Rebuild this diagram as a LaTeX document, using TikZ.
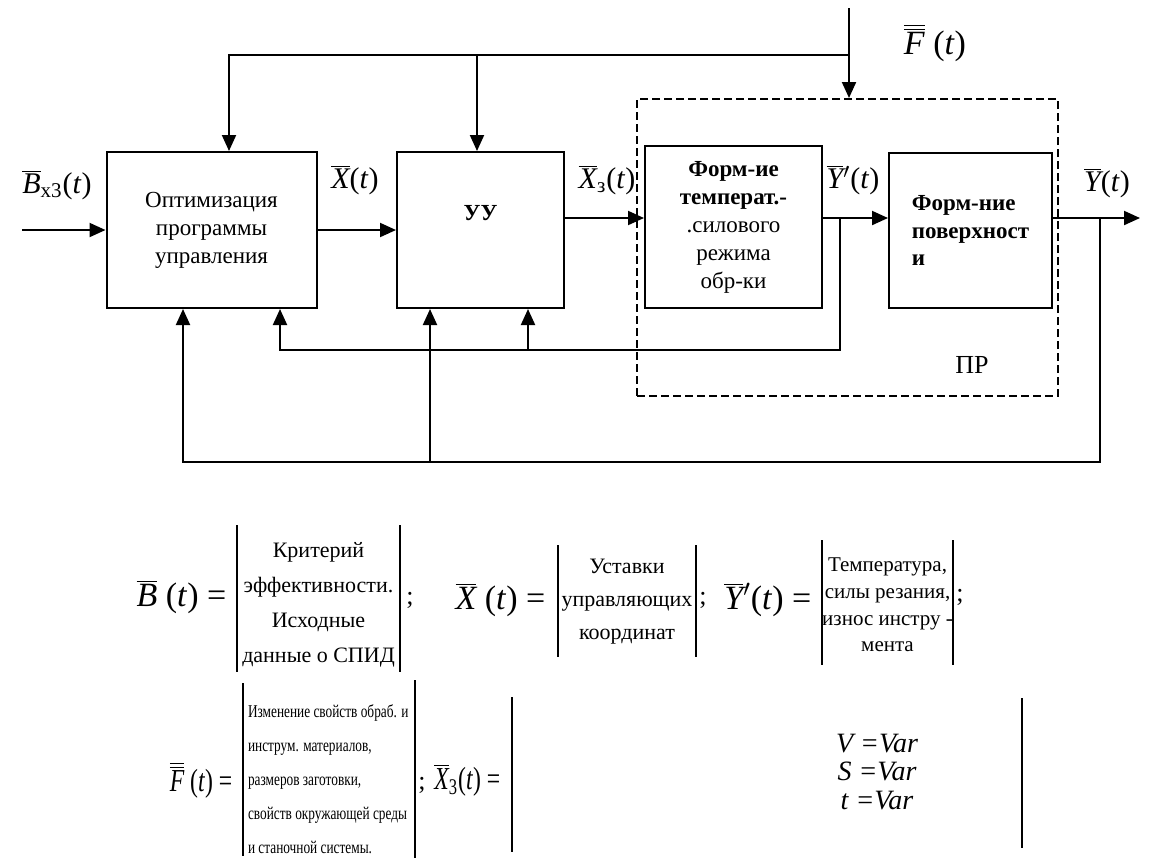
\documentclass[tikz,border=0pt]{standalone}
\usepackage{fontspec}
\setmainfont{Liberation Serif}
\newfontfamily\narrowfont[FakeStretch=0.74]{Liberation Serif}
\usetikzlibrary{arrows.meta}
\newcommand{\vb}[1]{$\overline{\mbox{\itshape #1}}$}
\newcommand{\vbb}[1]{$\overline{\overline{\mbox{\itshape #1}}}$}
\begin{document}
\begin{tikzpicture}[x=0.5pt,y=-0.5pt,line width=1pt,
  blk/.style={draw,rectangle,align=center,inner sep=2pt,font=\fontsize{11.5}{14}\selectfont},
  sig/.style={-{Triangle[length=8pt,width=7pt]}},
  lbl/.style={font=\fontsize{15}{18}\selectfont},
  eq/.style={anchor=east,font=\fontsize{17}{20}\selectfont},
  eqn/.style={anchor=east,font=\narrowfont\fontsize{16}{20}\selectfont},
  note/.style={align=center,inner sep=1pt,font=\fontsize{11}{17.5}\selectfont},
  semi/.style={font=\fontsize{13}{15}\selectfont}]
\useasboundingbox (0,0) rectangle (1159,859);

\node[blk,minimum width=105pt,minimum height=78pt] (opt) at (211.5,230) {Оптимизация\\программы\\управления};
\node[blk,minimum width=83.5pt,minimum height=78pt,font=\fontsize{11.5}{14}\selectfont\bfseries] (uu) at (480.5,230) {\raisebox{5pt}[0pt][0pt]{УУ}};
\node[blk,minimum width=88.5pt,minimum height=81pt] (form) at (733.5,227) {\textbf{Форм-ие}\\\textbf{температ.-}\\.силового\\режима\\обр-ки};
\node[blk,minimum width=81.5pt,minimum height=77.5pt,align=left,font=\fontsize{11.5}{13.75}\selectfont\bfseries] (surf) at (970.5,230.5) {Форм-ние\\поверхност\\и};
\node[draw,dash pattern=on 4pt off 2pt,inner sep=0pt,minimum width=210.5pt,minimum height=148.5pt] (pr) at (847.5,247.5) {};
\node[font=\fontsize{13}{15}\selectfont] (prlbl) at (972,365) {ПР};

\coordinate (bin) at (22,230);
\coordinate (ftop) at (849,8);
\coordinate (fj) at (849,55);
\coordinate (fa) at (229,55);
\coordinate (fb) at (477,55);
\coordinate (s) at (0,218);
\coordinate (yout) at (1140,218);
\coordinate (yp) at (840,218);
\coordinate (yq) at (1100,218);
\coordinate (ia) at (280,350);
\coordinate (ib) at (528,350);
\coordinate (oa) at (183,462);
\coordinate (ob) at (430,462);

\draw[sig] (bin) -- (opt);
\draw[sig] (opt) -- (uu);
\draw[sig] (uu.east |- s) -- (form.west |- s);
\draw[sig] (form.east |- s) -- (surf.west |- s);
\draw[sig] (surf.east |- s) -- (yout);
\draw[sig] (ftop) -- (ftop |- pr.north);
\draw[sig] (fj) -- (fa) -- (fa |- opt.north);
\draw[sig] (fb) -- (fb |- uu.north);
\draw[sig] (yp) |- (ia) -- (ia |- opt.south);
\draw[sig] (ib) -- (ib |- uu.south);
\draw[sig] (yq) |- (oa) -- (oa |- opt.south);
\draw[sig] (ob) -- (ob |- uu.south);

\node[lbl] (lb) at (57,185) {\vb{B}\textsubscript{x3}(\textit{t})};
\node[lbl] (lx) at (355,180) {\vb{X}(\textit{t})};
\node[lbl] (lx3) at (607,180) {\vb{X}\textsubscript{з}(\textit{t})};
\node[lbl] (lyp) at (853,180) {\vb{Y}$'$(\textit{t})};
\node[lbl] (ly) at (1107,183) {\vb{Y}(\textit{t})};
\node[lbl,font=\fontsize{17}{20}\selectfont] (lf) at (935,43) {\vbb{F} (\textit{t})};

\node[eq] (eb) at (234,597) {\vb{B} (\textit{t}) =};
\draw (237,525) -- (237,672);
\draw (400,525) -- (400,672);
\node[note] (tb) at (318.5,605) {Критерий\\эффективности.\\Исходные\\данные о СПИД};
\node[semi] (sb) at (410,600) {;};

\node[eq] (ex) at (553,600) {\vb{X} (\textit{t}) =};
\draw (558,545) -- (558,657);
\draw (696,545) -- (696,657);
\node[note,font=\fontsize{11}{16.5}\selectfont] (tx) at (627,602) {Уставки\\управляющих\\координат};
\node[semi] (sx) at (703,600) {;};

\node[eq] (ey) at (819,600) {\vb{Y}$'$(\textit{t}) =};
\draw (822,540) -- (822,665);
\draw (953,540) -- (953,665);
\node[note,font=\fontsize{10.5}{13.3}\selectfont] (ty) at (887.5,605) {Температура,\\силы резания,\\износ инстру -\\мента};
\node[semi] (sy) at (960,597) {;};

\node[eqn] (ef) at (240,780) {\vbb{F} (\textit{t}) =};
\draw (243,683) -- (243,856);
\draw (415,680) -- (415,858);
\node[align=left,anchor=west,inner sep=1pt,font=\narrowfont\fontsize{9}{17}\selectfont] (tf) at (245,779) {Изменение свойств обраб. и\\инструм. материалов,\\размеров заготовки,\\свойств окружающей среды\\и станочной системы.};
\node[semi] (sf) at (422,785) {;};

\node[eqn] (ex3) at (508,780) {\vb{X}\textsubscript{3}(\textit{t}) =};
\draw (512,697) -- (512,852);
\draw (1022,698) -- (1022,848);
\node[align=center,font=\fontsize{14}{14.3}\selectfont\itshape] (tv) at (877,772) {V =Var\\S =Var\\t =Var};
\end{tikzpicture}
\end{document}
